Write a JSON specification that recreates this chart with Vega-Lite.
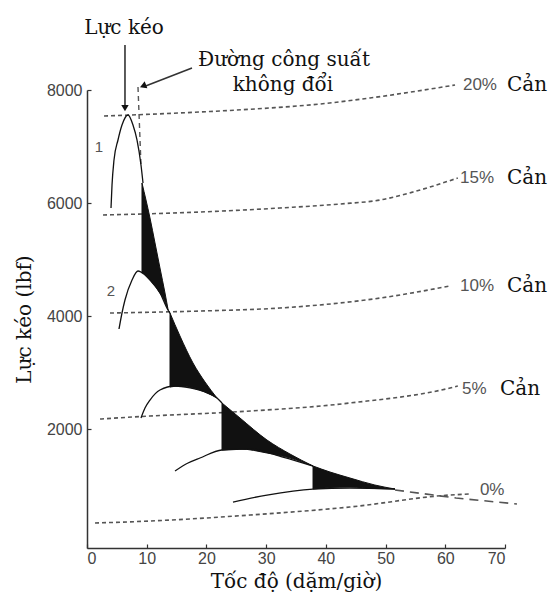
{
  "$schema": "https://vega.github.io/schema/vega-lite/v6.json",
  "width": 418,
  "height": 458,
  "autosize": "none",
  "padding": {"left": 87, "top": 90, "right": 47, "bottom": 54},
  "background": "white",
  "config": {"view": {"stroke": null}},
  "datasets": {
    "resist": [
      {"s": "20", "mph": 2.85, "lbf": 7540}, {"s": "20", "mph": 18.92, "lbf": 7611}, {"s": "20", "mph": 30.65, "lbf": 7682}, {"s": "20", "mph": 39.02, "lbf": 7752}, {"s": "20", "mph": 47.39, "lbf": 7859}, {"s": "20", "mph": 61.63, "lbf": 8088},
      {"s": "15", "mph": 2.68, "lbf": 5789}, {"s": "15", "mph": 18.9, "lbf": 5842}, {"s": "15", "mph": 32.3, "lbf": 5913}, {"s": "15", "mph": 42.4, "lbf": 5984}, {"s": "15", "mph": 49.1, "lbf": 6055}, {"s": "15", "mph": 54.6, "lbf": 6196}, {"s": "15", "mph": 62.1, "lbf": 6444},
      {"s": "10", "mph": 3.85, "lbf": 4056}, {"s": "10", "mph": 18.9, "lbf": 4091}, {"s": "10", "mph": 32.3, "lbf": 4144}, {"s": "10", "mph": 49.1, "lbf": 4321}, {"s": "10", "mph": 60.8, "lbf": 4534},
      {"s": "5", "mph": 2.18, "lbf": 2181}, {"s": "5", "mph": 10.55, "lbf": 2234}, {"s": "5", "mph": 24.45, "lbf": 2305}, {"s": "5", "mph": 44.0, "lbf": 2464}, {"s": "5", "mph": 60.8, "lbf": 2730}, {"s": "5", "mph": 62.1, "lbf": 2765},
      {"s": "0", "mph": 1.34, "lbf": 342}, {"s": "0", "mph": 10.55, "lbf": 377}, {"s": "0", "mph": 27.3, "lbf": 483}, {"s": "0", "mph": 44.0, "lbf": 625}, {"s": "0", "mph": 60.8, "lbf": 837}, {"s": "0", "mph": 64.1, "lbf": 855}
    ],
    "ext": [
      {"mph": 51.58, "lbf": 926}, {"mph": 61.79, "lbf": 784}, {"mph": 72.0, "lbf": 678}
    ],
    "cp": [
      {"mph": 8.54, "lbf": 8053}, {"mph": 9.04, "lbf": 6674}
    ],
    "fill": [
      {"r": "1", "mph": 9.21, "lbf": 6355, "lbf2": 4781}, {"r": "1", "mph": 10.55, "lbf": 5736, "lbf2": 4640}, {"r": "1", "mph": 11.39, "lbf": 5294, "lbf2": 4534}, {"r": "1", "mph": 12.22, "lbf": 4852, "lbf2": 4410}, {"r": "1", "mph": 13.06, "lbf": 4410, "lbf2": 4251}, {"r": "1", "mph": 13.56, "lbf": 4127, "lbf2": 4109},
      {"r": "2", "mph": 13.9, "lbf": 4056, "lbf2": 2747}, {"r": "2", "mph": 15.57, "lbf": 3649, "lbf2": 2765}, {"r": "2", "mph": 17.75, "lbf": 3172, "lbf2": 2730}, {"r": "2", "mph": 19.76, "lbf": 2836, "lbf2": 2659}, {"r": "2", "mph": 21.77, "lbf": 2553, "lbf2": 2553},
      {"r": "3", "mph": 22.61, "lbf": 2464, "lbf2": 1633}, {"r": "3", "mph": 25.62, "lbf": 2199, "lbf2": 1651}, {"r": "3", "mph": 30.14, "lbf": 1810, "lbf2": 1580}, {"r": "3", "mph": 33.99, "lbf": 1562, "lbf2": 1492}, {"r": "3", "mph": 37.85, "lbf": 1350, "lbf2": 1350},
      {"r": "4", "mph": 37.85, "lbf": 1350, "lbf2": 943}, {"r": "4", "mph": 40.69, "lbf": 1244, "lbf2": 970}, {"r": "4", "mph": 44.04, "lbf": 1138, "lbf2": 979}, {"r": "4", "mph": 48.2, "lbf": 1014, "lbf2": 952}, {"r": "4", "mph": 51.58, "lbf": 943, "lbf2": 943}
    ],
    "gears": [
      {"g": "1", "mph": 4.02, "lbf": 5913}, {"g": "1", "mph": 4.19, "lbf": 6320}, {"g": "1", "mph": 4.52, "lbf": 6762}, {"g": "1", "mph": 5.19, "lbf": 7116}, {"g": "1", "mph": 5.86, "lbf": 7381}, {"g": "1", "mph": 6.87, "lbf": 7558}, {"g": "1", "mph": 7.7, "lbf": 7381}, {"g": "1", "mph": 8.37, "lbf": 7116}, {"g": "1", "mph": 9.04, "lbf": 6674}, {"g": "1", "mph": 9.38, "lbf": 6355},
      {"g": "2", "mph": 5.36, "lbf": 3773}, {"g": "2", "mph": 5.86, "lbf": 4056}, {"g": "2", "mph": 6.36, "lbf": 4286}, {"g": "2", "mph": 7.54, "lbf": 4640}, {"g": "2", "mph": 8.54, "lbf": 4799}, {"g": "2", "mph": 9.71, "lbf": 4729}, {"g": "2", "mph": 10.55, "lbf": 4640}, {"g": "2", "mph": 12.22, "lbf": 4410}, {"g": "2", "mph": 13.56, "lbf": 4109}, {"g": "2", "mph": 13.9, "lbf": 4056},
      {"g": "3", "mph": 9.04, "lbf": 2199}, {"g": "3", "mph": 9.71, "lbf": 2376}, {"g": "3", "mph": 10.55, "lbf": 2517}, {"g": "3", "mph": 12.22, "lbf": 2694}, {"g": "3", "mph": 14.74, "lbf": 2765}, {"g": "3", "mph": 17.25, "lbf": 2730}, {"g": "3", "mph": 19.76, "lbf": 2659}, {"g": "3", "mph": 21.77, "lbf": 2553}, {"g": "3", "mph": 22.61, "lbf": 2464},
      {"g": "4", "mph": 14.74, "lbf": 1262}, {"g": "4", "mph": 16.92, "lbf": 1403}, {"g": "4", "mph": 18.92, "lbf": 1492}, {"g": "4", "mph": 22.61, "lbf": 1633}, {"g": "4", "mph": 27.3, "lbf": 1651}, {"g": "4", "mph": 32.8, "lbf": 1509}, {"g": "4", "mph": 37.85, "lbf": 1350},
      {"g": "5", "mph": 24.45, "lbf": 713}, {"g": "5", "mph": 30.14, "lbf": 837}, {"g": "5", "mph": 37.85, "lbf": 943}, {"g": "5", "mph": 44.04, "lbf": 961}, {"g": "5", "mph": 51.58, "lbf": 943}
    ],
    "arrows": [
      {"a": "1", "mph": 6.36, "lbf": 8796}, {"a": "1", "mph": 6.36, "lbf": 7700},
      {"a": "2", "mph": 17.58, "lbf": 8389}, {"a": "2", "mph": 9.6, "lbf": 8060}
    ],
    "heads": [
      {"mph": 6.36, "lbf": 7680, "ang": 180},
      {"mph": 9.38, "lbf": 8071, "ang": 249}
    ],
    "labels": [
      {"t": "Lực kéo", "mph": 6.2, "lbf": 9097, "k": "serifC"},
      {"t": "Đường công suất", "mph": 32.99, "lbf": 8531, "k": "serifC"},
      {"t": "không đổi", "mph": 32.82, "lbf": 8088, "k": "serifC"},
      {"t": "20%", "mph": 62.96, "lbf": 8088, "k": "sansL"},
      {"t": "Cản", "mph": 70.33, "lbf": 8088, "k": "serifL"},
      {"t": "15%", "mph": 62.46, "lbf": 6444, "k": "sansL"},
      {"t": "Cản", "mph": 70.33, "lbf": 6444, "k": "serifL"},
      {"t": "10%", "mph": 62.46, "lbf": 4534, "k": "sansL"},
      {"t": "Cản", "mph": 70.33, "lbf": 4534, "k": "serifL"},
      {"t": "5%", "mph": 62.8, "lbf": 2712, "k": "sansL"},
      {"t": "Cản", "mph": 69.16, "lbf": 2712, "k": "serifL"},
      {"t": "0%", "mph": 65.8, "lbf": 926, "k": "sansL"},
      {"t": "1", "mph": 2.01, "lbf": 6992, "k": "sansC"},
      {"t": "2", "mph": 4.02, "lbf": 4445, "k": "sansC"}
    ]
  },
  "encoding": {
    "x": {
      "field": "mph", "type": "quantitative",
      "scale": {"domain": [0, 70], "nice": false, "zero": false},
      "axis": {
        "title": "Tốc độ (dặm/giờ)", "values": [0, 10, 20, 30, 40, 50, 60, 70], "grid": false, "format": "d",
        "tickSize": -4, "tickColor": "#333", "tickWidth": 1.2,
        "domainColor": "#333", "domainWidth": 1.5,
        "labelFont": "Liberation Sans", "labelFontSize": 16, "labelColor": "#444", "labelPadding": 6,
        "titleFont": "DejaVu Serif", "titleFontSize": 20, "titleFontWeight": "normal", "titleColor": "#111", "titlePadding": 5
      }
    },
    "y": {
      "field": "lbf", "type": "quantitative",
      "scale": {"domain": [-100, 8000], "nice": false, "zero": false},
      "axis": {
        "title": "Lực kéo (lbf)", "values": [2000, 4000, 6000, 8000], "grid": false, "format": "d",
        "tickSize": -4, "tickColor": "#333", "tickWidth": 1.2,
        "domainColor": "#333", "domainWidth": 1.5,
        "labelFont": "Liberation Sans", "labelFontSize": 16, "labelColor": "#444", "labelPadding": 9,
        "titleFont": "DejaVu Serif", "titleFontSize": 20, "titleFontWeight": "normal", "titleColor": "#111", "titlePadding": 12
      }
    }
  },
  "layer": [
    {
      "data": {"name": "resist"},
      "mark": {"type": "line", "color": "#555", "strokeWidth": 1.6, "strokeDash": [4, 3], "interpolate": "monotone"},
      "encoding": {"detail": {"field": "s", "type": "nominal"}}
    },
    {
      "data": {"name": "ext"},
      "mark": {"type": "line", "color": "#555", "strokeWidth": 1.6, "strokeDash": [9, 6]},
      "encoding": {}
    },
    {
      "data": {"name": "cp"},
      "mark": {"type": "line", "color": "#555", "strokeWidth": 1.4, "strokeDash": [5, 4]},
      "encoding": {}
    },
    {
      "data": {"name": "fill"},
      "mark": {"type": "area", "color": "#111", "stroke": "#111", "strokeWidth": 1, "interpolate": "monotone"},
      "encoding": {"y2": {"field": "lbf2"}, "detail": {"field": "r", "type": "nominal"}}
    },
    {
      "data": {"name": "gears"},
      "mark": {"type": "line", "color": "#111", "strokeWidth": 1.3, "interpolate": "monotone"},
      "encoding": {"detail": {"field": "g", "type": "nominal"}}
    },
    {
      "data": {"name": "arrows"},
      "mark": {"type": "line", "color": "#333", "strokeWidth": 1.6},
      "encoding": {"detail": {"field": "a", "type": "nominal"}}
    },
    {
      "data": {"name": "heads"},
      "mark": {"type": "point", "shape": "triangle-up", "filled": true, "color": "#111", "size": 55, "opacity": 1},
      "encoding": {"angle": {"field": "ang", "type": "quantitative", "scale": null}}
    },
    {
      "data": {"name": "labels"},
      "transform": [{"filter": "datum.k == 'serifC'"}],
      "mark": {"type": "text", "font": "DejaVu Serif", "fontSize": 20, "align": "center", "baseline": "middle", "color": "#111"},
      "encoding": {"text": {"field": "t"}}
    },
    {
      "data": {"name": "labels"},
      "transform": [{"filter": "datum.k == 'serifL'"}],
      "mark": {"type": "text", "font": "DejaVu Serif", "fontSize": 20, "align": "left", "baseline": "middle", "color": "#111"},
      "encoding": {"text": {"field": "t"}}
    },
    {
      "data": {"name": "labels"},
      "transform": [{"filter": "datum.k == 'sansL'"}],
      "mark": {"type": "text", "font": "Liberation Sans", "fontSize": 17, "align": "left", "baseline": "middle", "color": "#555"},
      "encoding": {"text": {"field": "t"}}
    },
    {
      "data": {"name": "labels"},
      "transform": [{"filter": "datum.k == 'sansC'"}],
      "mark": {"type": "text", "font": "Liberation Sans", "fontSize": 15, "align": "center", "baseline": "middle", "color": "#555"},
      "encoding": {"text": {"field": "t"}}
    }
  ]
}
